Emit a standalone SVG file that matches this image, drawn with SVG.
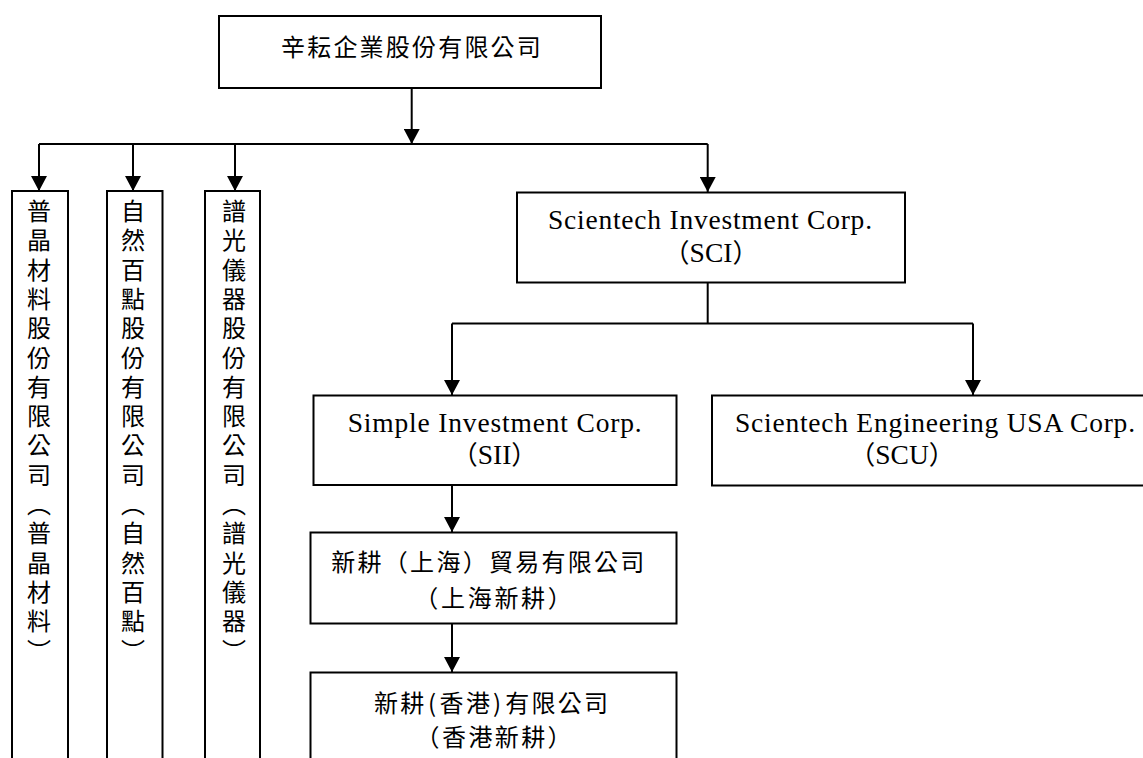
<svg xmlns="http://www.w3.org/2000/svg" width="1143" height="758" viewBox="0 0 1143 758">
<style>
.box{fill:#fff;stroke:#000;stroke-width:2}
.ln{fill:none;stroke:#000;stroke-width:2}
.cjk{font-family:"Noto Sans CJK TC","Noto Sans CJK SC",sans-serif;font-size:24px;fill:#000}
.en{font-family:"Liberation Serif","Noto Sans CJK TC",serif;font-size:27.5px;fill:#000}
.par{font-family:"Noto Sans CJK TC",sans-serif;font-size:26px}
</style>
<defs>
<marker id="ah" viewBox="0 0 15 16" refX="15" refY="8" markerWidth="15" markerHeight="16" markerUnits="userSpaceOnUse" orient="auto">
<path d="M0,0 L15,8 L0,16 z" fill="#000"/>
</marker>
</defs>
<rect width="1143" height="758" fill="#fff"/>
<g id="connectors">
<path class="ln" d="M411.7,88 V144" marker-end="url(#ah)"/>
<path class="ln" d="M39,144 H707.7"/>
<path class="ln" d="M39,144 V191" marker-end="url(#ah)"/>
<path class="ln" d="M133,144 V191" marker-end="url(#ah)"/>
<path class="ln" d="M235,144 V191" marker-end="url(#ah)"/>
<path class="ln" d="M707.7,144 V192" marker-end="url(#ah)"/>
<path class="ln" d="M707.7,283 V323.5"/>
<path class="ln" d="M452,323.5 H973"/>
<path class="ln" d="M452,323.5 V395" marker-end="url(#ah)"/>
<path class="ln" d="M973,323.5 V395" marker-end="url(#ah)"/>
<path class="ln" d="M452,485 V532" marker-end="url(#ah)"/>
<path class="ln" d="M452,623.5 V672" marker-end="url(#ah)"/>
</g>
<g id="n-root">
<rect class="box" x="219" y="16" width="382" height="72"/>
<text class="cjk" x="281" y="55.7" letter-spacing="2.2">辛耘企業股份有限公司</text>
</g>
<g id="n-pujing">
<rect class="box" x="12" y="191" width="56" height="600"/>
<text class="cjk" text-anchor="middle" x="39 39 39 39 39 39 39 39 39 39 39 39 39 39 39 39" y="220 249.3 278.6 307.9 337.2 366.5 395.8 425.1 454.4 483.7 513 542.3 571.6 600.9 630.2 659.5">普晶材料股份有限公司︵普晶材料︶</text>
</g>
<g id="n-ziran">
<rect class="box" x="107" y="191" width="55.5" height="600"/>
<text class="cjk" text-anchor="middle" x="133 133 133 133 133 133 133 133 133 133 133 133 133 133 133 133" y="220 249.3 278.6 307.9 337.2 366.5 395.8 425.1 454.4 483.7 513 542.3 571.6 600.9 630.2 659.5">自然百點股份有限公司︵自然百點︶</text>
</g>
<g id="n-puguang">
<rect class="box" x="205" y="191" width="55" height="600"/>
<text class="cjk" text-anchor="middle" x="234 234 234 234 234 234 234 234 234 234 234 234 234 234 234 234" y="220 249.3 278.6 307.9 337.2 366.5 395.8 425.1 454.4 483.7 513 542.3 571.6 600.9 630.2 659.5">譜光儀器股份有限公司︵譜光儀器︶</text>
</g>
<g id="n-sci">
<rect class="box" x="517" y="192.5" width="388" height="90"/>
<text class="en" x="548" y="229" textLength="324" lengthAdjust="spacing">Scientech Investment Corp.</text>
<text class="en" x="711" y="262" text-anchor="middle"><tspan class="par">（</tspan>SCI<tspan class="par">）</tspan></text>
</g>
<g id="n-sii">
<rect class="box" x="313.5" y="395.5" width="363" height="89.5"/>
<text class="en" x="347.7" y="431.7" textLength="294" lengthAdjust="spacing">Simple Investment Corp.</text>
<text class="en" x="494.5" y="464.3" text-anchor="middle"><tspan class="par">（</tspan>SII<tspan class="par">）</tspan></text>
</g>
<g id="n-scu">
<rect class="box" x="712" y="395.5" width="460" height="90"/>
<text class="en" x="735" y="431.7" textLength="400" lengthAdjust="spacing">Scientech Engineering USA Corp.</text>
<text class="en" x="902" y="464.3" text-anchor="middle"><tspan class="par">（</tspan>SCU<tspan class="par">）</tspan></text>
</g>
<g id="n-shanghai">
<rect class="box" x="310.5" y="532.5" width="366" height="91"/>
<text class="cjk" x="331.3" y="570.7" letter-spacing="2.27">新耕（上海）貿易有限公司</text>
<text class="cjk" x="414.3" y="607" letter-spacing="2.7">（上海新耕）</text>
</g>
<g id="n-hongkong">
<rect class="box" x="310.5" y="672.5" width="366" height="120"/>
<text class="cjk" x="374 400.3 428 439.6 465.9 493 505.2 531.5 557.8 584.1" y="712">新耕(香港)有限公司</text>
<text class="cjk" x="415.6" y="745.7" letter-spacing="2.4">（香港新耕）</text>
</g>
</svg>
